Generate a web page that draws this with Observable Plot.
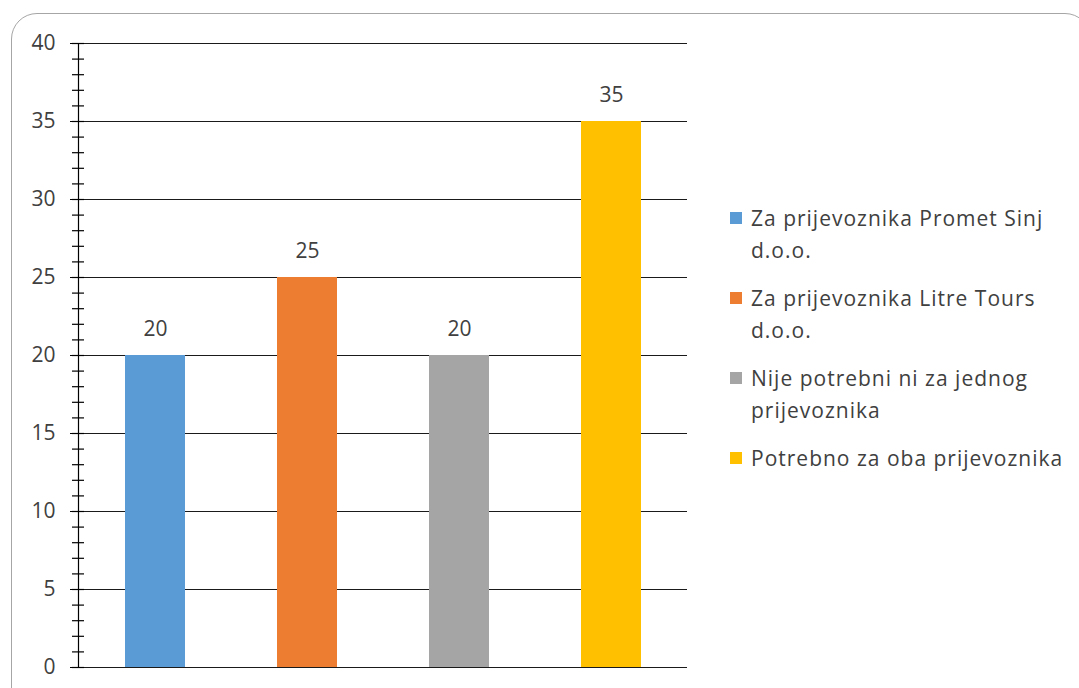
<!DOCTYPE html>
<html>
<head>
<meta charset="utf-8">
<script src="https://cdn.jsdelivr.net/npm/d3@7"></script>
<script src="https://cdn.jsdelivr.net/npm/@observablehq/plot@0.6"></script>
<style>
  html, body { margin: 0; padding: 0; background: #fff; overflow: hidden; }
  #wrap { position: relative; width: 1079px; height: 688px; font-family: "Open Sans", sans-serif; }
  #frame { position: absolute; left: 11px; top: 13px; width: 1080px; height: 720px; border: 1.5px solid #a6a6a6; border-radius: 26px; box-sizing: border-box; }
  #chart { position: absolute; left: 0; top: 0; }
  #legend { position: absolute; left: 730px; top: 202px; color: #404040; font-size: 21px; letter-spacing: 1px; line-height: 32px; }
  .item { display: flex; align-items: flex-start; margin-bottom: 16px; }
  .sw { width: 12px; height: 12px; margin-top: 10px; margin-right: 9px; flex: none; }
  .lab { white-space: pre-line; }
</style>
</head>
<body>
<div id="wrap">
  <div id="frame"></div>
  <div id="chart"></div>
  <div id="legend"></div>
</div>
<script>
const categories = [
  "Za prijevoznika Promet Sinj d.o.o.",
  "Za prijevoznika Litre Tours d.o.o.",
  "Nije potrebni ni za jednog prijevoznika",
  "Potrebno za oba prijevoznika"
];
const legendLabels = [
  "Za prijevoznika Promet Sinj\nd.o.o.",
  "Za prijevoznika Litre Tours\nd.o.o.",
  "Nije potrebni ni za jednog\nprijevoznika",
  "Potrebno za oba prijevoznika"
];
const values = [20, 25, 20, 35];
const colors = ["#5B9BD5", "#ED7D31", "#A5A5A5", "#FFC000"];
const majorTicks = [0, 5, 10, 15, 20, 25, 30, 35, 40];
const minorTicks = d3.range(0, 41, 1);

const data = categories.map((c, i) => ({category: c, value: values[i]}));

const chart = Plot.plot({
  width: 1079,
  height: 688,
  marginLeft: 78,
  marginRight: 392,
  marginTop: 43,
  marginBottom: 21,
  style: {fontFamily: "Open Sans, sans-serif", fontSize: "21px", color: "#404040", background: "transparent"},
  x: {domain: categories, paddingInner: 0.606, paddingOuter: 0.303, axis: null},
  y: {domain: [0, 40], axis: null},
  color: {domain: categories, range: colors},
  marks: [
    Plot.ruleY(majorTicks, {stroke: "#1a1a1a", strokeWidth: 1}),
    Plot.barY(data, {x: "category", y: "value", fill: "category"}),
    Plot.text(data, {x: "category", y: "value", text: d => String(d.value), dy: -26, fill: "#404040", fontSize: 21}),
    Plot.axisY({ticks: minorTicks, tickSize: 12, dx: 6, text: null, label: null, stroke: "#000", strokeWidth: 1.2}),
    Plot.axisY({ticks: majorTicks, tickSize: 8, tickPadding: 15, stroke: "#000", fill: "#404040", fontSize: 21, label: null}),
    Plot.frame({anchor: "left", stroke: "#000", strokeWidth: 1.2})
  ]
});
document.getElementById("chart").appendChild(chart);

const legend = document.getElementById("legend");
legendLabels.forEach((l, i) => {
  const item = document.createElement("div");
  item.className = "item";
  const sw = document.createElement("span");
  sw.className = "sw";
  sw.style.background = colors[i];
  const lab = document.createElement("span");
  lab.className = "lab";
  lab.textContent = l;
  item.appendChild(sw);
  item.appendChild(lab);
  legend.appendChild(item);
});
</script>
</body>
</html>
